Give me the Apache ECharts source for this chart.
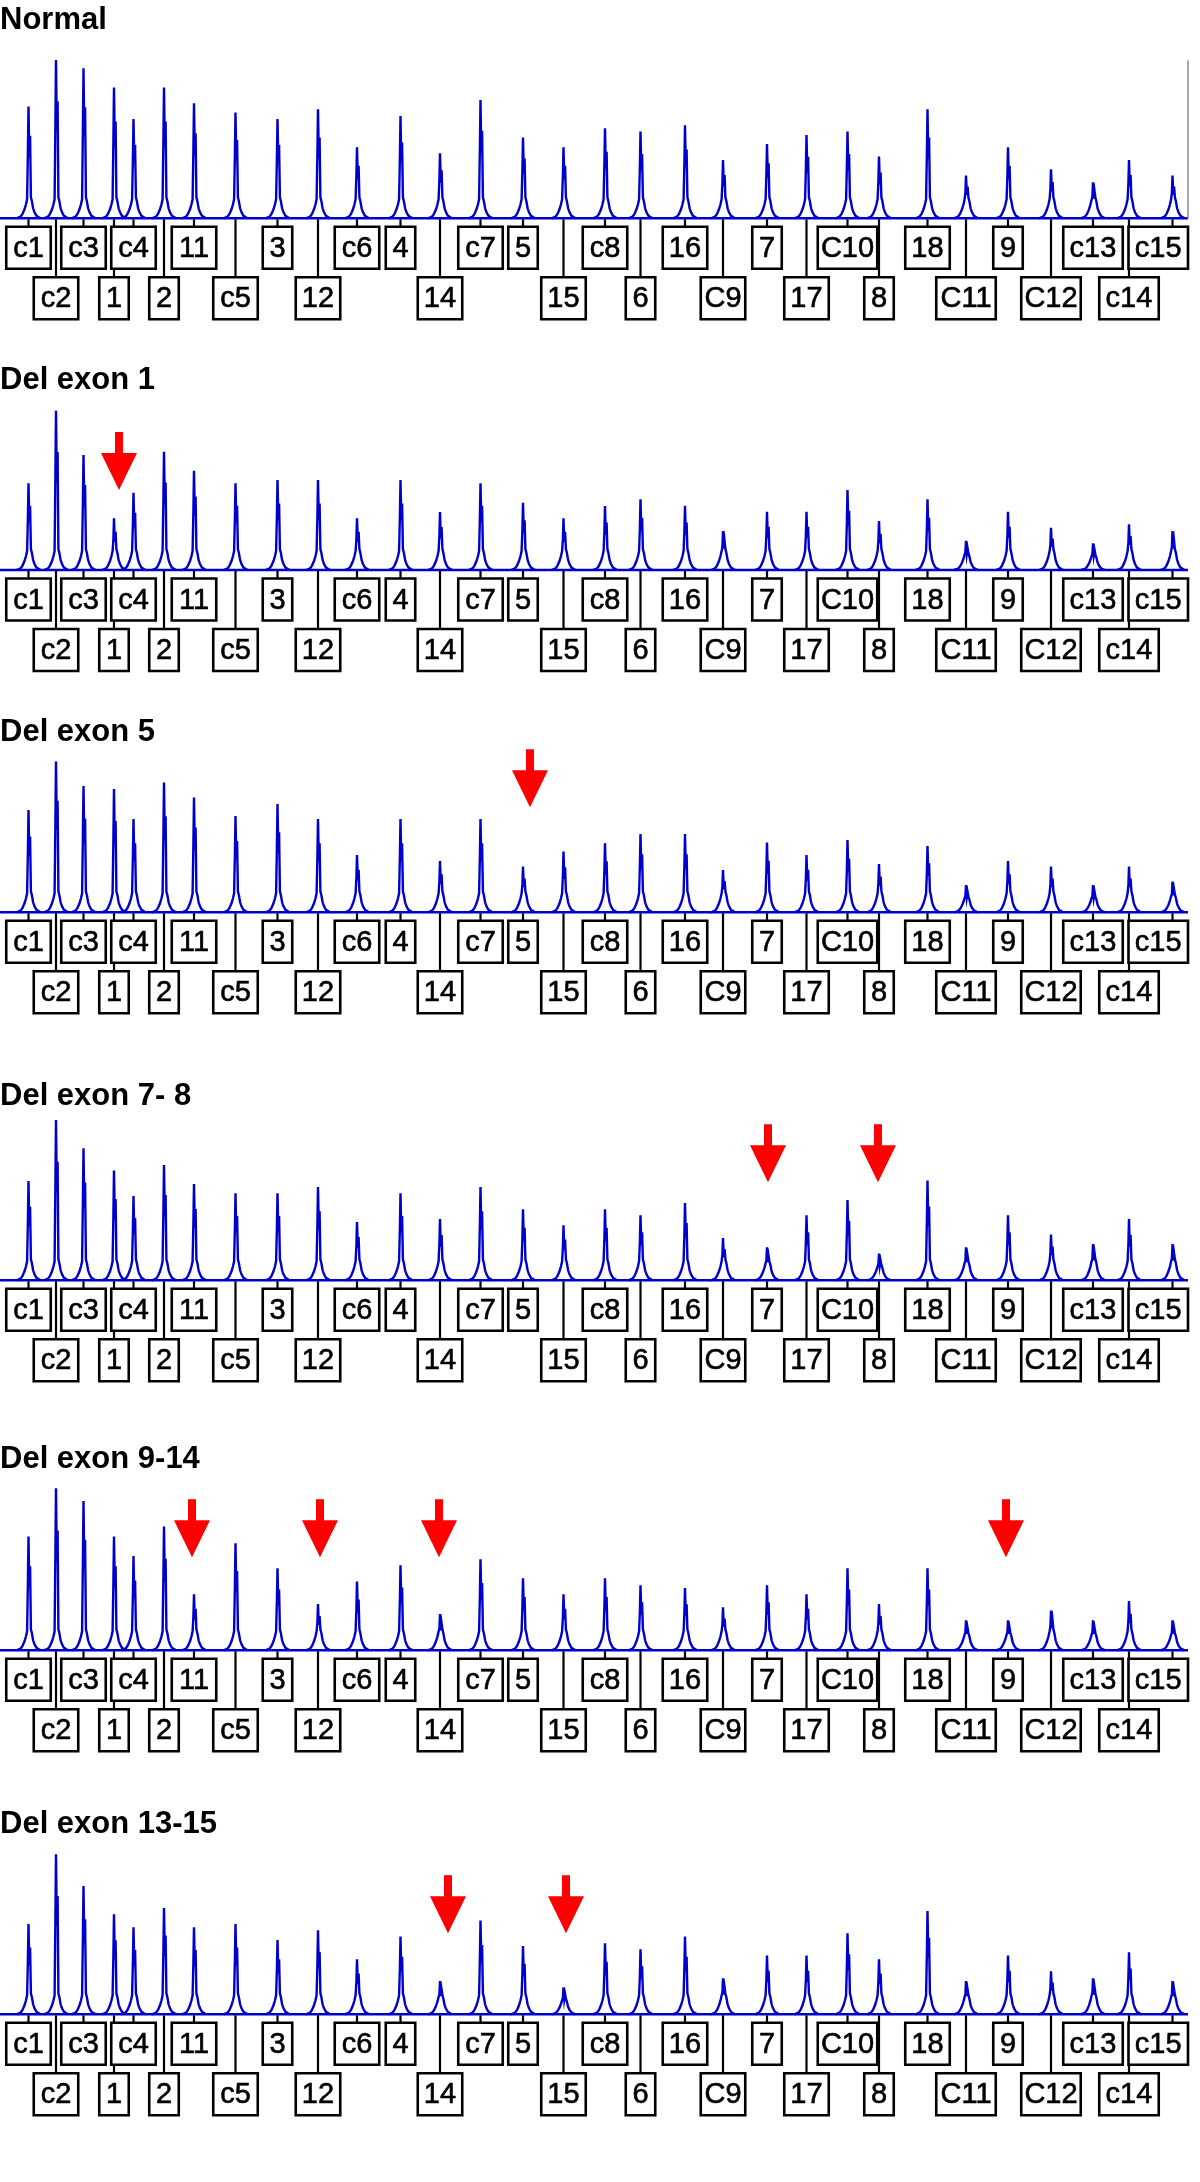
<!DOCTYPE html>
<html>
<head>
<meta charset="utf-8">
<script src="https://cdn.jsdelivr.net/npm/echarts@6/dist/echarts.min.js"></script>
<style>
  html, body { margin: 0; padding: 0; background: #fff; }
  #chart { width: 1200px; height: 2182px; }
</style>
</head>
<body>
<div id="chart"></div>
<script>
// probes in migration order
var peakNames = ['c1','c2','c3','1','c4','2','11','c5','3','12','c6','4','14','c7','5','15',
  'c8','6','16','C9','7','17','C10','8','18','C11','9','C12','c13','c14','c15'];
var peakPos = [28.5,56,83.5,114,133.5,164,194,235.5,277.5,318,357,400.5,440,480.5,523,563.5,
  605,640.5,685,723,767,806.5,847.5,879,927.5,966,1008,1051,1093,1129,1172.5];
// 0 = upper label row, 1 = lower label row
var labelRow = [0,1,0,1,0,1,0,1,0,1,0,0,1,0,0,1,0,1,0,1,0,1,0,1,0,1,0,1,0,1,0];

var panelTitles = ['Normal','Del exon 1','Del exon 5','Del exon 7- 8','Del exon 9-14','Del exon 13-15'];

var heightsNormal = [111.7,158.3,150,130.7,99.3,130.7,115,105.7,99.3,109,71,102.3,65,118.3,80.7,71,
  90,86.7,93,58.3,74.3,83.3,86.7,61.7,109,42.7,71,49,36,58.3,42.7];
var heightsDel1 = [86.7,159.3,115,51.7,77.3,118.3,99.3,86.7,90,90,51.7,90,58,86.7,67.3,51.7,
  64,70.7,64.3,39,58.3,58.3,80,49,70.7,29.3,58.3,42.3,26.7,45.7,39];
var heightsDel5 = [102.3,150.7,126.3,123.3,93.3,129.7,114.7,96.3,108.3,93.3,57.3,93.3,51.3,93.3,45.7,60.7,
  69,78.3,78.3,42.3,69.7,57.3,72.3,48.3,66.3,27.3,51.3,45.7,27.3,45.7,30.7];
var heightsDel78 = [99.3,160.3,132,109.7,84.3,115.3,96.3,87,87,93.3,58.3,87,61.3,93.3,71,55,
  71,65,77.3,42.3,33,65,80.3,26.7,99.7,33,65,45.7,36.3,61.3,36.3];
var heightsDel914 = [113.7,162,149.3,113.7,94.3,123.7,56,107,82,46.3,68.7,85,36.3,91,72,56,
  72,65,62.3,43,65,56,82,46.3,82,30,30,39.7,30,49.3,30];
var heightsDel1315 = [90.3,160,128.3,100,87,106.3,87,90.3,74.3,84,55,77.7,33.3,93.7,68.3,27,
  71,65,77.7,36,58.7,58.7,81,55,103.3,33.3,58.7,43,36,62,33.3];

// arrows: [position, height of the tip]
var arrowsNormal = [];
var arrowsDel1 = [[119, 80]];
var arrowsDel5 = [[530, 105]];
var arrowsDel78 = [[768, 98], [878, 98]];
var arrowsDel914 = [[192, 93], [320, 93], [439, 93], [1006, 93]];
var arrowsDel1315 = [[448, 81], [566, 81]];

var traceEnd = 1188;

var panelHeights = [heightsNormal, heightsDel1, heightsDel5, heightsDel78, heightsDel914, heightsDel1315];
var panelArrows = [arrowsNormal, arrowsDel1, arrowsDel5, arrowsDel78, arrowsDel914, arrowsDel1315];

// layout (pixels)
var baselines = [218.3, 570, 912.3, 1280.3, 1650.3, 2014.3];
var titleTops = [6, 366, 718, 1082, 1445, 1810];
var BLUE = '#0000cc';

var chart = echarts.init(document.getElementById('chart'), null, { renderer: 'canvas' });

function renderPeak(params, api) {
  var x = api.value(0), h = api.value(1);
  var b = api.coord([x, 0]);
  var t = api.coord([x, h]);
  var H = b[1] - t[1];
  var hump = Math.min(20, H * 0.55);
  var shape = [
    [-12, 0], [-8, 0.08 * hump], [-6, 0.22 * hump], [-4, 0.45 * hump], [-2.5, 0.7 * hump], [-1.4, 0.95 * hump],
    [-0.6, 0.6 * H], [0, H], [0.8, 0.55 * H], [1.6, 0.74 * H], [2.4, 1.05 * hump], [3.4, 0.85 * hump],
    [4.6, 0.5 * hump], [6, 0.3 * hump], [8, 0.12 * hump], [12, 0]
  ];
  return {
    type: 'polyline',
    shape: { points: shape.map(function (p) { return [b[0] + p[0], b[1] - p[1]]; }) },
    style: { stroke: BLUE, lineWidth: 2.4, fill: null, lineJoin: 'miter' },
    z2: 5
  };
}

function renderLabel(params, api) {
  var x = api.value(0), row = api.value(2);
  var name = peakNames[params.dataIndex];
  var b = api.coord([x, 0]);
  var w = 14.5 + 15 * name.length;
  var top = b[1] + (row ? 59 : 8.5);
  var left = b[0] - w / 2;
  var right = params.coordSys.x + params.coordSys.width;
  if (left + w > right) left = right - w;
  return {
    type: 'group',
    children: [
      { type: 'line', shape: { x1: b[0], y1: b[1] + 1, x2: b[0], y2: top },
        style: { stroke: '#000', lineWidth: 2.2 }, z2: 0 },
      { type: 'rect', shape: { x: left, y: top, width: w, height: 42 },
        style: { fill: '#fff', stroke: '#000', lineWidth: 2.6 }, z2: 1 },
      { type: 'text', z2: 2,
        style: { text: name, x: left + w / 2, y: top + 22, align: 'center', verticalAlign: 'middle',
          font: '29px "Liberation Sans", Arial, sans-serif', fill: '#000',
          stroke: '#000', lineWidth: 0.6 } }
    ]
  };
}

var grids = [], xAxes = [], yAxes = [], titles = [], series = [];
panelTitles.forEach(function (title, i) {
  grids.push({ left: 0, top: baselines[i] - 200, width: traceEnd, height: 200 });
  xAxes.push({ type: 'value', gridIndex: i, min: 0, max: traceEnd, show: false });
  yAxes.push({ type: 'value', gridIndex: i, min: 0, max: 200, show: false });
  titles.push({
    text: title, left: 0, top: titleTops[i] - 1, padding: 0,
    textStyle: { fontSize: 31, fontWeight: 'bold', fontFamily: '"Liberation Sans", Arial, sans-serif', color: '#000' }
  });
  series.push({
    type: 'line', xAxisIndex: i, yAxisIndex: i, clip: false, symbol: 'none', silent: true,
    data: [[0, 0], [traceEnd, 0]],
    lineStyle: { color: BLUE, width: 2.4 }, z: 3
  });
  series.push({
    type: 'custom', xAxisIndex: i, yAxisIndex: i, clip: false, silent: true,
    data: peakPos.map(function (p, k) { return [p, panelHeights[i][k]]; }),
    renderItem: renderPeak, z: 4
  });
  series.push({
    type: 'custom', xAxisIndex: i, yAxisIndex: i, clip: false, silent: true,
    data: peakPos.map(function (p, k) { return [p, 0, labelRow[k]]; }),
    renderItem: renderLabel, z: 2
  });
  if (panelArrows[i].length) {
    series.push({
      type: 'scatter', xAxisIndex: i, yAxisIndex: i, clip: false, silent: true,
      data: panelArrows[i],
      symbol: 'path://M14,0 L22,0 L22,21 L36,21 L18,58 L0,21 L14,21 Z',
      symbolSize: [36, 58], symbolOffset: [0, '-50%'],
      itemStyle: { color: '#ff0000', opacity: 1 }, z: 6
    });
  }
});

// grey cursor line at the right end of the normal trace
series.push({
  type: 'line', xAxisIndex: 0, yAxisIndex: 0, clip: false, symbol: 'none', silent: true,
  data: [[traceEnd, 0], [traceEnd, 158]],
  lineStyle: { color: '#8c8c8c', width: 1.5 }, z: 3
});

chart.setOption({
  animation: false,
  backgroundColor: '#fff',
  title: titles,
  grid: grids,
  xAxis: xAxes,
  yAxis: yAxes,
  series: series
});
</script>
</body>
</html>
